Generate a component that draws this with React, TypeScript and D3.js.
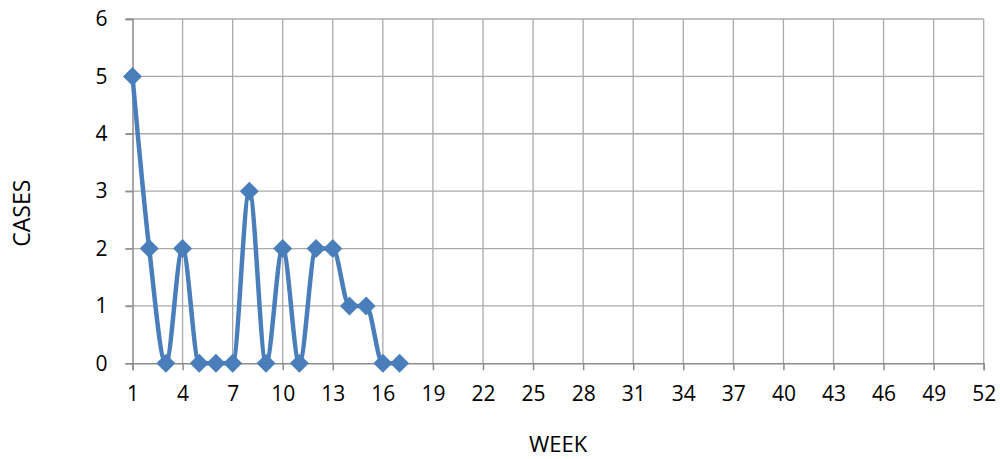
import { useEffect, useRef } from 'react'
import * as d3 from 'd3'

// weekly case counts (weeks 1..17 reported)
const weeks = [1, 2, 3, 4, 5, 6, 7, 8, 9, 10, 11, 12, 13, 14, 15, 16, 17]
const cases = [5, 2, 0, 2, 0, 0, 0, 3, 0, 2, 0, 2, 2, 1, 1, 0, 0]

const weekTicks = [1, 4, 7, 10, 13, 16, 19, 22, 25, 28, 31, 34, 37, 40, 43, 46, 49, 52]
const caseTicks = [0, 1, 2, 3, 4, 5, 6]

const xTitle = 'WEEK'
const yTitle = 'CASES'

const App = () => {
  const svgRef = useRef<SVGSVGElement>(null)

  useEffect(() => {
    if (!svgRef.current) return
    const svg = d3.select(svgRef.current)
    svg.selectAll('*').remove()

    const width = 1000
    const height = 459
    const left = 132.5
    const right = 983.7
    const top = 19
    const bottom = 363.3
    const font = "'Open Sans', 'Noto Sans', sans-serif"
    const gridColor = '#aaaaaa'
    const lineColor = '#4a7ebb'

    svg.attr('width', width).attr('height', height)

    const x = d3.scaleLinear().domain([1, 52]).range([left, right])
    const y = d3.scaleLinear().domain([0, 6]).range([bottom, top])

    // vertical grid
    svg.append('g')
      .selectAll('line')
      .data(weekTicks.slice(1))
      .join('line')
      .attr('x1', d => x(d))
      .attr('x2', d => x(d))
      .attr('y1', top)
      .attr('y2', bottom)
      .attr('stroke', gridColor)
      .attr('stroke-width', 1.3)

    // horizontal grid
    svg.append('g')
      .selectAll('line')
      .data(caseTicks.slice(1))
      .join('line')
      .attr('x1', left - 7)
      .attr('x2', right)
      .attr('y1', d => y(d))
      .attr('y2', d => y(d))
      .attr('stroke', gridColor)
      .attr('stroke-width', 1.3)

    // x axis
    const xAxis = svg.append('g')
      .attr('transform', `translate(0,${bottom})`)
      .call(d3.axisBottom(x).tickValues(weekTicks).tickSize(7).tickPadding(16).tickFormat(d3.format('d')))
    xAxis.select('.domain').attr('stroke', '#8c8c8c').attr('stroke-width', 1.5)
    xAxis.selectAll('.tick line').attr('stroke', '#8c8c8c').attr('stroke-width', 1.5)
    xAxis.selectAll('.tick text')
      .attr('fill', '#000')
      .attr('font-family', font)
      .attr('font-size', 21)

    // y axis
    const yAxis = svg.append('g')
      .attr('transform', `translate(${left},0)`)
      .call(d3.axisLeft(y).tickValues(caseTicks).tickSize(7).tickPadding(18).tickFormat(d3.format('d')))
    yAxis.select('.domain').attr('stroke', '#8c8c8c').attr('stroke-width', 1.5)
    yAxis.selectAll('.tick line').attr('stroke', '#8c8c8c').attr('stroke-width', 1.5)
    yAxis.selectAll('.tick text')
      .attr('fill', '#000')
      .attr('font-family', font)
      .attr('font-size', 21)

    // smoothed line
    const pts: [number, number][] = weeks.map((w, i) => [w, cases[i]])
    const line = d3.line<[number, number]>()
      .x(d => x(d[0]))
      .y(d => y(d[1]))
      .curve(d3.curveMonotoneX)

    svg.append('path')
      .datum(pts)
      .attr('d', line)
      .attr('fill', 'none')
      .attr('stroke', lineColor)
      .attr('stroke-width', 4.5)
      .attr('stroke-linejoin', 'round')

    // diamond markers
    const r = 9.5
    svg.append('g')
      .selectAll('path')
      .data(pts)
      .join('path')
      .attr('transform', d => `translate(${x(d[0])},${y(d[1])})`)
      .attr('d', `M0,${-r}L${r},0L0,${r}L${-r},0Z`)
      .attr('fill', lineColor)

    // titles
    svg.append('text')
      .attr('x', (left + right) / 2)
      .attr('y', 452)
      .attr('text-anchor', 'middle')
      .attr('font-family', font)
      .attr('font-size', 22)
      .attr('fill', '#000')
      .text(xTitle)

    svg.append('text')
      .attr('transform', `translate(30,${(top + bottom) / 2 + 22}) rotate(-90)`)
      .attr('text-anchor', 'middle')
      .attr('font-family', font)
      .attr('font-size', 23)
      .attr('fill', '#000')
      .text(yTitle)
  }, [])

  return (
    <div style={{ position: 'absolute', left: 0, top: 0 }}>
      <svg ref={svgRef} style={{ display: 'block' }} />
    </div>
  )
}

export default App
